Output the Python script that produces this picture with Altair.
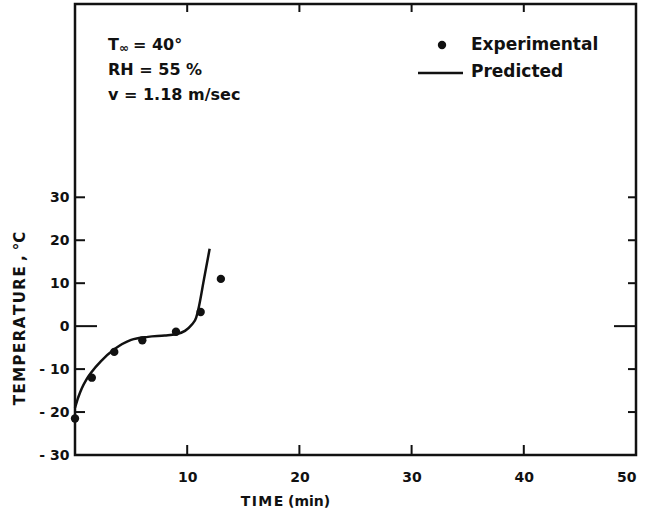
import altair as alt
import pandas as pd

# Measured freezing-surface temperatures
exp_time = [0.0, 1.5, 3.5, 6.0, 9.0, 11.2, 13.0]
exp_temp = [-21.5, -12.0, -6.0, -3.3, -1.3, 3.3, 11.0]

# Model prediction
pred_time = [0.0, 0.3, 0.6, 1.0, 1.5, 2.3, 3.5, 5.0, 6.5, 8.0, 9.0, 9.8, 10.4, 10.8, 11.0, 11.5, 12.0]
pred_temp = [-19.0, -16.5, -14.5, -12.5, -10.6, -8.2, -5.4, -3.2, -2.5, -2.2, -1.9, -1.1, 0.3, 2.0, 4.0, 11.0, 18.0]

# Axis tick values
x_ticks = [10, 20, 30, 40]
x_labels = [10, 20, 30, 40, 50]
y_ticks = [-20, -10, 10, 20, 30]
y_labels = [-30, -20, -10, 0, 10, 20, 30]

W, H = 561, 451
FONT = "DejaVu Sans"
INK = "#111111"
HS = "\u200a"  # hair space for letter-spaced lettering

exp_df = pd.DataFrame({"time": exp_time, "temp": exp_temp})
pred_df = pd.DataFrame({"time": pred_time, "temp": pred_temp})

xs = alt.Scale(domain=[0, 50], nice=False, zero=False)
ys = alt.Scale(domain=[-30, 75], nice=False, zero=False)

x_axis = alt.Axis(
    values=x_labels, title=HS.join("TIME") + " (min)", domain=False, ticks=False, grid=False,
    labelFont=FONT, labelFontSize=14, labelFontWeight="bold", labelColor=INK,
    labelPadding=15, titleFont=FONT, titleFontSize=14, titleFontWeight="bold",
    titleColor=INK, titleX=210, titleY=46, titleBaseline="middle",
)
y_axis = alt.Axis(
    values=y_labels, title=HS.join("TEMPERATURE") + " , °C", domain=False, ticks=False, grid=False,
    labelFont=FONT, labelFontSize=14, labelFontWeight="bold", labelColor=INK,
    labelPadding=6,
    labelExpr="datum.value < 0 ? '- ' + abs(datum.value) : datum.label",
    titleFont=FONT, titleFontSize=15, titleFontWeight="bold", titleColor=INK,
    titleX=-56, titleY=314, titleAngle=270, titleBaseline="middle",
)

line = alt.Chart(pred_df).mark_line(color=INK, strokeWidth=2.5, interpolate="monotone").encode(
    x=alt.X("time:Q", scale=xs, axis=x_axis),
    y=alt.Y("temp:Q", scale=ys, axis=y_axis),
)
dots = alt.Chart(exp_df).mark_circle(color=INK, opacity=1, size=70).encode(
    x=alt.X("time:Q", scale=xs),
    y=alt.Y("temp:Q", scale=ys),
)

# Inward tick marks on all four sides
yt = pd.DataFrame({"v": y_ticks})
xt = pd.DataFrame({"v": x_ticks})
zero = pd.DataFrame({"v": [0]})
left_ticks = alt.Chart(yt).mark_rule(color=INK, strokeWidth=2).encode(
    y=alt.Y("v:Q", scale=ys), x=alt.value(0), x2=alt.value(10))
right_ticks = alt.Chart(yt).mark_rule(color=INK, strokeWidth=2).encode(
    y=alt.Y("v:Q", scale=ys), x=alt.value(W - 8), x2=alt.value(W))
zero_left = alt.Chart(zero).mark_rule(color=INK, strokeWidth=2).encode(
    y=alt.Y("v:Q", scale=ys), x=alt.value(0), x2=alt.value(22))
zero_right = alt.Chart(zero).mark_rule(color=INK, strokeWidth=2).encode(
    y=alt.Y("v:Q", scale=ys), x=alt.value(W - 22), x2=alt.value(W))
bottom_ticks = alt.Chart(xt).mark_rule(color=INK, strokeWidth=2).encode(
    x=alt.X("v:Q", scale=xs), y=alt.value(H - 10), y2=alt.value(H))
top_ticks = alt.Chart(xt).mark_rule(color=INK, strokeWidth=2).encode(
    x=alt.X("v:Q", scale=xs), y=alt.value(0), y2=alt.value(8))

# Conditions note
def txt(s, x, y, size=16):
    return alt.Chart(pd.DataFrame({"t": [s]})).mark_text(
        font=FONT, fontSize=size, fontWeight="bold", color=INK,
        align="left", baseline="alphabetic",
    ).encode(text="t:N", x=alt.value(x), y=alt.value(y))

note = [
    txt("T", 33, 46),
    txt("∞", 44, 48, size=12),
    txt("= 40°", 58, 46),
    txt("RH = 55 %", 33, 71),
    txt("v = 1.18 m/sec", 33, 96),
]

# Key
key_dot = alt.Chart(pd.DataFrame({"k": [1]})).mark_circle(color=INK, opacity=1, size=70).encode(
    x=alt.value(367), y=alt.value(41))
key_line = alt.Chart(pd.DataFrame({"k": [1]})).mark_rule(color=INK, strokeWidth=2.5).encode(
    x=alt.value(343), x2=alt.value(388), y=alt.value(69))
key = [key_dot, key_line, txt("Experimental", 396, 46, size=17), txt("Predicted", 396, 73, size=17)]

chart = alt.layer(
    line, dots, left_ticks, right_ticks, zero_left, zero_right, bottom_ticks, top_ticks,
    *note, *key,
).properties(
    width=W, height=H,
    autosize=alt.AutoSizeParams(type="none"),
    padding={"left": 75, "top": 4, "right": 13, "bottom": 60},
).configure(
    background="white",
).configure_view(
    stroke=INK, strokeWidth=2.5,
)

chart.save("out.html", embed_options={"renderer": "svg", "actions": False})
